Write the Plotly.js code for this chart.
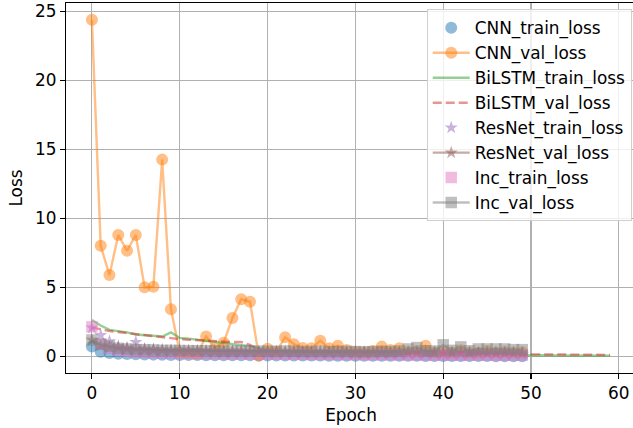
<!DOCTYPE html>
<html>
<head>
<meta charset="utf-8">
<script src="https://cdn.plot.ly/plotly-3.0.1.min.js"></script>
<style>
html,body{margin:0;padding:0;overflow:hidden;background:#fff;}
#chart{width:640px;height:428px;}
</style>
</head>
<body>
<div id="chart"></div>
<script>
// ---- data ----
const epochs50 = Array.from({length: 50}, (_, i) => i);
const epochs60 = Array.from({length: 60}, (_, i) => i);

const cnnTrain = [0.72, 0.35, 0.25, 0.2, 0.18, 0.16, 0.15, 0.14, 0.13, 0.12, 0.12, 0.11, 0.11, 0.1, 0.1, 0.1, 0.09, 0.09, 0.09, 0.08,
  0.08, 0.08, 0.08, 0.07, 0.07, 0.07, 0.07, 0.06, 0.06, 0.06, 0.06, 0.06, 0.05, 0.05, 0.05, 0.05, 0.05, 0.05, 0.04, 0.04,
  0.04, 0.04, 0.04, 0.04, 0.04, 0.04, 0.03, 0.03, 0.03, 0.03];
const cnnVal = [24.38, 8.02, 5.9, 8.8, 7.66, 8.8, 5.01, 5.06, 14.26, 3.42, 0.3, 0.25, 0.22, 1.45, 0.6, 1.0, 2.8, 4.15, 3.97, 0.05,
  0.56, 0.35, 1.4, 0.9, 0.62, 0.6, 1.15, 0.6, 0.78, 0.48, 0.35, 0.3, 0.4, 0.72, 0.48, 0.6, 0.35, 0.4, 0.78, 0.3,
  0.36, 0.3, 0.45, 0.3, 0.28, 0.4, 0.3, 0.35, 0.3, 0.32];
const bilstmTrain = [2.65, 2.25, 1.93, 1.85, 1.75, 1.6, 1.55, 1.5, 1.45, 1.75, 1.35, 1.3, 1.22, 1.13, 1.05, 0.98, 0.9, 0.82, 0.75, 0.6,
  0.42, 0.36, 0.33, 0.31, 0.29, 0.27, 0.25, 0.24, 0.23, 0.22, 0.21, 0.2, 0.19, 0.18, 0.18, 0.17, 0.16, 0.16, 0.15, 0.15,
  0.14, 0.14, 0.13, 0.13, 0.12, 0.12, 0.11, 0.11, 0.1, 0.1, 0.1, 0.09, 0.09, 0.09, 0.08, 0.08, 0.08, 0.07, 0.07, 0.07];
const bilstmVal = [2.1, 1.95, 1.85, 1.78, 1.7, 1.62, 1.55, 1.48, 1.42, 1.3, 1.26, 1.22, 1.18, 1.13, 1.1, 1.06, 1.05, 1.05, 0.85, 0.5,
  0.4, 0.38, 0.35, 0.33, 0.32, 0.3, 0.3, 0.29, 0.28, 0.27, 0.27, 0.26, 0.25, 0.25, 0.24, 0.24, 0.23, 0.23, 0.22, 0.22,
  0.21, 0.21, 0.2, 0.2, 0.19, 0.19, 0.18, 0.18, 0.17, 0.17, 0.16, 0.16, 0.15, 0.15, 0.14, 0.14, 0.13, 0.13, 0.12, 0.12];
const resnetTrain = [2.1, 1.55, 1.1, 0.75, 0.6, 1.05, 0.55, 0.5, 0.45, 0.42, 0.4, 0.38, 0.37, 0.35, 0.34, 0.33, 0.32, 0.31, 0.3, 0.3,
  0.29, 0.28, 0.28, 0.27, 0.27, 0.26, 0.26, 0.25, 0.25, 0.25, 0.24, 0.24, 0.23, 0.23, 0.23, 0.22, 0.22, 0.22, 0.21, 0.21,
  0.21, 0.2, 0.2, 0.2, 0.2, 0.19, 0.19, 0.19, 0.19, 0.18];
const resnetVal = [1.2, 0.8, 0.7, 0.65, 0.6, 0.55, 0.5, 0.5, 0.48, 0.45, 0.45, 0.43, 0.42, 0.42, 0.4, 0.4, 0.4, 0.38, 0.38, 0.37,
  0.37, 0.36, 0.36, 0.35, 0.35, 0.35, 0.34, 0.34, 0.34, 0.33, 0.33, 0.33, 0.32, 0.32, 0.32, 0.32, 0.31, 0.31, 0.31, 0.31,
  0.3, 0.3, 0.3, 0.3, 0.3, 0.29, 0.29, 0.29, 0.29, 0.29];
const incTrain = [2.15, 0.9, 0.6, 0.45, 0.38, 0.33, 0.3, 0.28, 0.26, 0.25, 0.24, 0.23, 0.22, 0.21, 0.2, 0.2, 0.19, 0.19, 0.18, 0.18,
  0.17, 0.17, 0.16, 0.16, 0.16, 0.15, 0.15, 0.15, 0.14, 0.14, 0.14, 0.13, 0.13, 0.13, 0.13, 0.12, 0.12, 0.12, 0.12, 0.12,
  0.11, 0.11, 0.11, 0.11, 0.11, 0.1, 0.1, 0.1, 0.1, 0.1];
const incVal = [1.2, 0.9, 0.75, 0.6, 0.55, 0.5, 0.5, 0.48, 0.45, 0.45, 0.44, 0.43, 0.42, 0.42, 0.41, 0.4, 0.4, 0.4, 0.39, 0.39,
  0.38, 0.38, 0.4, 0.38, 0.37, 0.37, 0.38, 0.36, 0.36, 0.37, 0.36, 0.35, 0.36, 0.38, 0.36, 0.4, 0.55, 0.65, 0.42, 0.4,
  0.85, 0.45, 0.7, 0.42, 0.55, 0.55, 0.55, 0.55, 0.5, 0.5];

const seriesNames = ["CNN_train_loss", "CNN_val_loss", "BiLSTM_train_loss", "BiLSTM_val_loss",
  "ResNet_train_loss", "ResNet_val_loss", "Inc_train_loss", "Inc_val_loss"];
const xTickVals = [0, 10, 20, 30, 40, 50, 60];
const yTickVals = [0, 5, 10, 15, 20, 25];

// ---- styles ----
const C = {
  blue: "rgba(31,119,180,0.5)", orange: "rgba(255,127,14,0.5)", green: "rgba(44,160,44,0.5)",
  red: "rgba(214,39,40,0.5)", purple: "rgba(148,103,189,0.5)", brown: "rgba(140,86,75,0.5)",
  pink: "rgba(227,119,194,0.5)", gray: "rgba(127,127,127,0.5)"
};
const LW = 2.4;
const SIZES = {circle: 12, star: 10, square: 11.5};
function mk(x, y, name, mode, color, symbol, dash, g) {
  const t = {x: x, y: y, name: name, type: "scatter", mode: mode, legendgroup: g,
    hoverinfo: "skip"};
  if (mode.indexOf("lines") >= 0) t.line = {color: color, width: LW, dash: dash || "solid"};
  if (mode.indexOf("markers") >= 0) t.marker = {color: color, size: SIZES[symbol], symbol: symbol, line: {width: 0}};
  return t;
}
const data = [
  mk(epochs50, cnnTrain, seriesNames[0], "markers", C.blue, "circle", null, "g0"),
  mk(epochs50, cnnVal, seriesNames[1], "lines+markers", C.orange, "circle", null, "g1"),
  mk(epochs60, bilstmTrain, seriesNames[2], "lines", C.green, null, "solid", "g2"),
  mk(epochs60, bilstmVal, seriesNames[3], "lines", C.red, null, "9px,4px", "g3"),
  mk(epochs50, resnetTrain, seriesNames[4], "markers", C.purple, "star", null, "g4"),
  mk(epochs50, resnetVal, seriesNames[5], "lines+markers", C.brown, "star", null, "g5"),
  mk(epochs50, incTrain, seriesNames[6], "markers", C.pink, "square", null, "g6"),
  mk(epochs50, incVal, seriesNames[7], "lines+markers", C.gray, "square", null, "g7")
];

const FONT = "DejaVu Sans, Liberation Sans, sans-serif";
const FS = 16.9;
const layout = {
  width: 640, height: 428,
  margin: {l: 66, r: 4, t: 3, b: 55, pad: 0},
  paper_bgcolor: "#fff", plot_bgcolor: "#fff",
  font: {family: FONT, size: FS, color: "#000"},
  showlegend: true,
  legend: {
    x: 0.9925, y: 0.983, xanchor: "right", yanchor: "top",
    bgcolor: "rgba(255,255,255,0.8)", bordercolor: "#d0d0d0", borderwidth: 1,
    font: {family: FONT, size: FS, color: "#000"},
    traceorder: "grouped", tracegroupgap: 0, itemwidth: 37
  },
  xaxis: {
    range: [-2.95, 61.95], tickvals: xTickVals, ticktext: xTickVals.map(String),
    showgrid: true, gridcolor: "#b0b0b0", gridwidth: 1.1, zeroline: false,
    showline: true, linecolor: "#000", linewidth: 1.1, mirror: true,
    ticks: "outside", ticklen: 5, tickwidth: 1.1, tickcolor: "#000",
    tickfont: {family: FONT, size: FS, color: "#000"},
    title: {text: "Epoch", font: {family: FONT, size: FS, color: "#000"}, standoff: 6}
  },
  yaxis: {
    range: [-1.19, 25.6], tickvals: yTickVals, ticktext: yTickVals.map(String),
    showgrid: true, gridcolor: "#b0b0b0", gridwidth: 1.1, zeroline: false,
    showline: true, linecolor: "#000", linewidth: 1.1, mirror: true,
    ticks: "outside", ticklen: 5, tickwidth: 1.1, tickcolor: "#000",
    tickfont: {family: FONT, size: FS, color: "#000"},
    title: {text: "Loss", font: {family: FONT, size: FS, color: "#000"}, standoff: 8}
  }
};
Plotly.newPlot("chart", data, layout, {staticPlot: true, displayModeBar: false});
</script>
</body>
</html>
